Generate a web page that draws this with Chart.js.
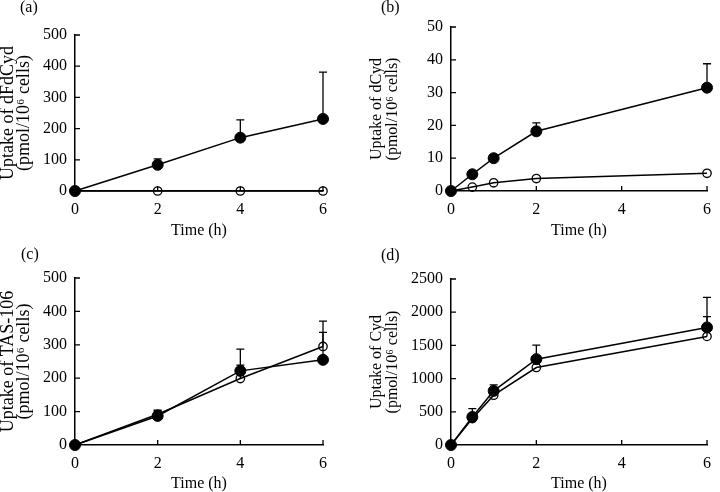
<!DOCTYPE html>
<html>
<head>
<meta charset="utf-8">
<script src="https://cdn.jsdelivr.net/npm/chart.js@4/dist/chart.umd.min.js"></script>
<style>
  body { margin: 0; background: #fff; width: 720px; height: 492px; position: relative; overflow: hidden; }
  canvas { position: absolute; }
  .tag { position: absolute; font: 16px "Liberation Serif", serif; color: #000; }
</style>
</head>
<body>
<canvas id="panelA" width="360" height="246" style="left:0;top:0"></canvas>
<canvas id="panelB" width="360" height="246" style="left:360px;top:0"></canvas>
<canvas id="panelC" width="360" height="246" style="left:0;top:246px"></canvas>
<canvas id="panelD" width="360" height="246" style="left:360px;top:246px"></canvas>
<div class="tag" style="left:20px;top:-2px">(a)</div>
<div class="tag" style="left:381px;top:-2px">(b)</div>
<div class="tag" style="left:21px;top:245px">(c)</div>
<div class="tag" style="left:381px;top:246px">(d)</div>
<script>
// uptake time courses, filled = one cell line, open = the other
// err = upper SD bar (only drawn upwards)

// (a) dFdCyd
const timeA = [0, 2, 4, 6];
const dfdcydFilled = [0, 84, 171, 231];
const dfdcydFilledErr = [0, 19, 57, 150];
const dfdcydOpen = [0, 0, 0, 0];
const dfdcydOpenErr = [0, 0, 0, 0];

// (b) dCyd
const timeB = [0, 0.5, 1, 2, 6];
const dcydFilled = [0, 5.1, 10.0, 18.2, 31.5];
const dcydFilledErr = [0, 0, 0, 2.6, 7.3];
const dcydOpen = [0, 1.2, 2.5, 3.8, 5.4];
const dcydOpenErr = [0, 0, 0, 0, 0];

// (c) TAS-106
const timeC = [0, 2, 4, 6];
const tasFilled = [0, 87, 222, 255];
const tasFilledErr = [0, 15, 65, 82];
const tasOpen = [0, 92, 199, 295];
const tasOpenErr = [0, 12, 40, 76];

// (d) Cyd
const timeD = [0, 0.5, 1, 2, 6];
const cydFilled = [0, 423, 815, 1293, 1771];
const cydFilledErr = [0, 125, 90, 211, 452];
const cydOpen = [0, 397, 750, 1167, 1635];
const cydOpenErr = [0, 0, 0, 0, 297];

const xTicks = [0, 2, 4, 6];
const serif = "'Liberation Serif', 'Times New Roman', serif";

// error bars drawn under the markers
const errorBars = {
  id: "errorBars",
  beforeDatasetsDraw(chart) {
    const ctx = chart.ctx;
    const xs = chart.scales.x, ys = chart.scales.y;
    ctx.save();
    ctx.strokeStyle = "#000";
    ctx.lineWidth = 1.3;
    chart.data.datasets.forEach(ds => {
      ds.data.forEach((p, i) => {
        const e = ds.err[i];
        if (!e) return;
        const x = xs.getPixelForValue(p.x);
        const y0 = ys.getPixelForValue(p.y);
        const y1 = ys.getPixelForValue(p.y + e);
        ctx.beginPath();
        ctx.moveTo(x, y0);
        ctx.lineTo(x, y1);
        ctx.moveTo(x - 4, y1);
        ctx.lineTo(x + 4, y1);
        ctx.stroke();
      });
    });
    ctx.restore();
  }
};

// tick marks pointing into the plot
const inwardTicks = {
  id: "inwardTicks",
  afterDraw(chart) {
    const { ctx, chartArea, scales: { x, y } } = chart;
    ctx.save();
    ctx.strokeStyle = "#000";
    ctx.lineWidth = 1.3;
    ctx.beginPath();
    x.ticks.forEach((t, i) => {
      if (i === 0) return;
      const px = x.getPixelForTick(i);
      ctx.moveTo(px, chartArea.bottom);
      ctx.lineTo(px, chartArea.bottom - 5);
    });
    y.ticks.forEach((t, i) => {
      if (i === 0) return;
      const py = y.getPixelForTick(i);
      ctx.moveTo(chartArea.left, py);
      ctx.lineTo(chartArea.left + 5, py);
    });
    ctx.stroke();
    ctx.restore();
  }
};

function series(xs, ys, errs, filled) {
  return {
    data: xs.map((x, i) => ({ x: x, y: ys[i] })),
    err: errs,
    borderColor: "#000",
    borderWidth: 1.5,
    pointRadius: filled ? 5.5 : 4.2,
    pointBorderWidth: filled ? 1 : 1.3,
    pointBackgroundColor: filled ? "#000" : "rgba(0,0,0,0)",
    pointBorderColor: "#000",
    clip: false,
    tension: 0
  };
}

function makePanel(id, box, yMax, yStep, yTitle, titleFont, titlePad, datasets) {
  return new Chart(document.getElementById(id), {
    type: "line",
    data: { datasets: datasets },
    plugins: [errorBars, inwardTicks],
    options: {
      responsive: false,
      animation: false,
      devicePixelRatio: 1,
      layout: { padding: { left: 0, top: box.top, right: 360 - box.right, bottom: 0 } },
      plugins: { legend: { display: false }, tooltip: { enabled: false } },
      scales: {
        x: {
          type: "linear",
          min: 0,
          max: 6,
          afterBuildTicks: s => { s.ticks = xTicks.map(v => ({ value: v })); },
          afterFit: s => { s.height = 246 - box.bottom; },
          grid: { display: false, drawTicks: false },
          border: { display: true, color: "#000", width: 1.5 },
          ticks: { color: "#000", padding: 9, font: { family: serif, size: 16 } },
          title: {
            display: true,
            text: "Time (h)",
            color: "#000",
            font: { family: serif, size: 16, lineHeight: 1 },
            padding: { top: 0, bottom: box.xTitlePad }
          }
        },
        y: {
          min: 0,
          max: yMax,
          afterFit: s => { s.width = box.left; },
          grid: { display: false, drawTicks: false },
          border: { display: true, color: "#000", width: 1.5 },
          ticks: {
            stepSize: yStep,
            color: "#000",
            padding: 8,
            font: { family: serif, size: 16 },
            callback: v => String(v)
          },
          title: {
            display: true,
            text: yTitle,
            color: "#000",
            font: { family: serif, size: titleFont, lineHeight: 16 / titleFont },
            padding: { top: titlePad, bottom: 0 }
          }
        }
      }
    }
  });
}

makePanel("panelA", { left: 75, top: 35, right: 323, bottom: 191, xTitlePad: 7 }, 500, 100,
  ["Uptake of dFdCyd", "(pmol/10\u2076 cells)"], 18, 0, [
    series(timeA, dfdcydFilled, dfdcydFilledErr, true),
    series(timeA, dfdcydOpen, dfdcydOpenErr, false)
  ]);

makePanel("panelB", { left: 91, top: 27, right: 354, bottom: 191, xTitlePad: 7 }, 50, 10,
  ["Uptake of dCyd", "(pmol/10\u2076 cells)"], 16, 9, [
    series(timeB, dcydFilled, dcydFilledErr, true),
    series(timeB, dcydOpen, dcydOpenErr, false)
  ]);

makePanel("panelC", { left: 75, top: 32, right: 323, bottom: 199, xTitlePad: 0 }, 500, 100,
  ["Uptake of TAS-106", "(pmol/10\u2076 cells)"], 18, 0, [
    series(timeC, tasFilled, tasFilledErr, true),
    series(timeC, tasOpen, tasOpenErr, false)
  ]);

makePanel("panelD", { left: 91, top: 33, right: 347, bottom: 199, xTitlePad: 0 }, 2500, 500,
  ["Uptake of Cyd", "(pmol/10\u2076 cells)"], 16, 9, [
    series(timeD, cydFilled, cydFilledErr, true),
    series(timeD, cydOpen, cydOpenErr, false)
  ]);
</script>
</body>
</html>
